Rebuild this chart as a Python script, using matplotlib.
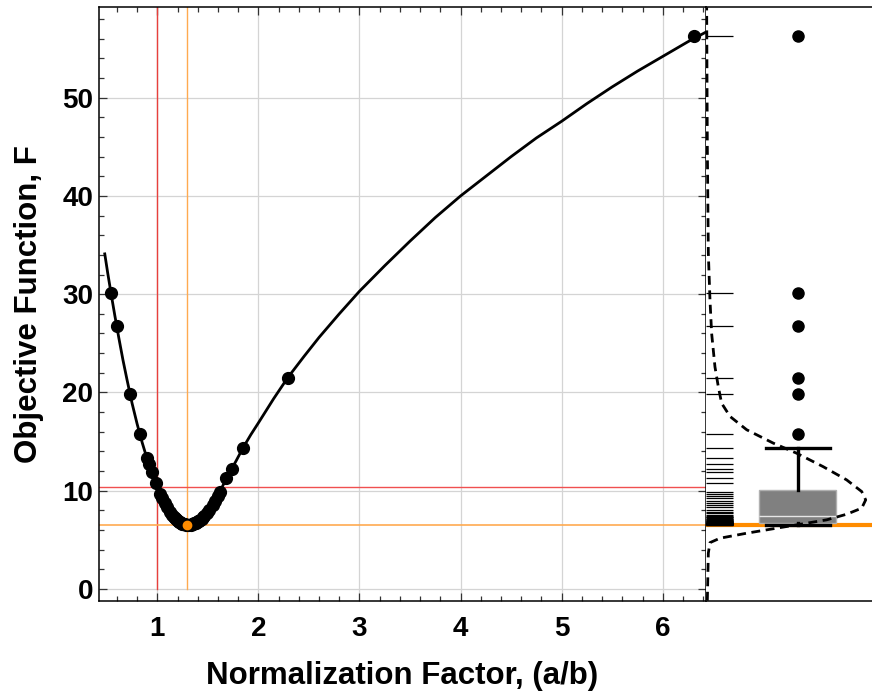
import matplotlib
matplotlib.use('Agg')
import matplotlib.pyplot as plt
from matplotlib.ticker import MultipleLocator

plt.rcParams['font.family'] = ['Liberation Sans', 'DejaVu Sans']
plt.rcParams['font.weight'] = 'bold'

# ---------------- data ----------------
curve_x = [0.48, 0.51, 0.55, 0.58, 0.62, 0.66, 0.70, 0.75, 0.80, 0.85, 0.90, 0.95,
           1.00, 1.05, 1.10, 1.15, 1.20, 1.25, 1.30, 1.35, 1.40, 1.45, 1.50, 1.55,
           1.60, 1.65, 1.70, 1.775, 1.85, 1.925, 2.00, 2.15, 2.29, 2.45, 2.60, 2.80,
           3.00, 3.25, 3.50, 3.75, 4.00, 4.25, 4.50, 4.75, 5.00, 5.25, 5.50, 5.75,
           6.00, 6.25, 6.45]
curve_F = [34.1, 32.1, 29.6, 27.8, 25.5, 23.3, 21.3, 18.9, 16.8, 14.9, 13.2, 11.7,
           10.4, 9.2, 8.25, 7.5, 6.95, 6.63, 6.50, 6.58, 6.85, 7.26, 7.85, 8.6,
           9.5, 10.55, 11.6, 12.95, 14.4, 15.7, 16.9, 19.35, 21.5, 23.65, 25.6, 28.0,
           30.3, 32.9, 35.4, 37.8, 40.0, 42.0, 44.0, 45.9, 47.6, 49.4, 51.1, 52.7,
           54.2, 55.7, 56.8]

points_x = [6.31, 0.542, 0.598, 2.29, 0.73, 0.829, 1.85, 0.895, 0.917, 1.736,
            0.945, 1.68, 0.986,
            1.619, 1.030, 1.598, 1.049, 1.570, 1.074, 1.547, 1.096, 1.513, 1.127,
            1.487, 1.147, 1.464,
            1.163, 1.451, 1.173, 1.438, 1.184, 1.427, 1.194, 1.415, 1.204, 1.404,
            1.214, 1.392, 1.225, 1.382, 1.232, 1.374, 1.239, 1.365, 1.247, 1.355,
            1.257, 1.343, 1.270, 1.330, 1.285, 1.300]
points_F = [56.25, 30.1, 26.75, 21.45, 19.86, 15.75, 14.39, 13.37, 12.7, 12.22,
            11.85, 11.27, 10.76,
            9.9, 9.67, 9.47, 9.23, 8.96, 8.75, 8.55, 8.32, 8.04, 7.85,
            7.7, 7.55, 7.42,
            7.33, 7.27, 7.21, 7.15, 7.10, 7.05, 7.00, 6.96, 6.92, 6.88,
            6.84, 6.80, 6.76, 6.74, 6.72, 6.70, 6.68, 6.66, 6.64, 6.62,
            6.60, 6.58, 6.56, 6.55, 6.53, 6.52]

best_x = 1.297
best_F = 6.52
ref_x = 1.0
ref_F = 10.42

# density curve of F (right panel), F level vs. relative density
kde_F = [-1.2, 3.64, 4.71, 5.16, 5.67, 6.24, 6.69, 7.03, 7.6, 8.22, 9.06, 9.91,
         11.1, 12.45, 13.82, 14.84, 16.2, 17.55, 18.9, 20.6, 22.6, 26.0, 29.4,
         34.2, 45.0, 59.2]
kde_d = [0.008, 0.014, 0.024, 0.084, 0.245, 0.446, 0.607, 0.727, 0.847, 0.938,
         0.962, 0.938, 0.847, 0.705, 0.545, 0.405, 0.245, 0.145, 0.094, 0.074,
         0.054, 0.034, 0.024, 0.014, 0.008, 0.004]

xlabel = "Normalization Factor, (a/b)"
ylabel = "Objective Function, F"

# ---------------- figure ----------------
W, H = 872, 694
fig = plt.figure(figsize=(W / 100, H / 100), dpi=100)

ax_l, ax_r = 98.7 / W, 706.0 / W
ax_t, ax_b = 7.3, 600.7
ax = fig.add_axes([ax_l, 1 - ax_b / H, ax_r - ax_l, (ax_b - ax_t) / H])
ax2 = fig.add_axes([ax_r, 1 - ax_b / H, 1 - ax_r, (ax_b - ax_t) / H])

ylim = (-1.2, 59.2)
ax.set_xlim(0.42, 6.428)
ax.set_ylim(*ylim)

ax.xaxis.set_major_locator(MultipleLocator(1))
ax.xaxis.set_minor_locator(MultipleLocator(0.2))
ax.yaxis.set_major_locator(MultipleLocator(10))
ax.yaxis.set_minor_locator(MultipleLocator(2))

ax.grid(True, which='major', color='#d4d4d4', lw=0.9, zorder=0)
ax.set_axisbelow(True)

ax.tick_params(which='both', direction='in', top=True, right=True,
               color='#333333', width=0.9)
ax.tick_params(which='major', length=5.8, labelsize=20)
ax.tick_params(axis='x', which='major', pad=11)
ax.tick_params(axis='y', which='major', pad=4)
ax.tick_params(which='minor', length=3.6)
for s in ax.spines.values():
    s.set_linewidth(1.1)

# reference lines
y0 = (0 - ylim[0]) / (ylim[1] - ylim[0])
ax.axvline(ref_x, ymin=y0, ymax=1, color='#e8403c', lw=1.0, zorder=1)
ax.axvline(best_x, ymin=y0, ymax=1, color='#ffaa50', lw=1.0, zorder=1)
ax.axhline(ref_F, color='#f05050', lw=1.0, zorder=1)
ax.axhline(best_F, color='#ffaa50', lw=1.2, zorder=1)

ax.plot(curve_x, curve_F, color='black', lw=2.0, zorder=3)
ax.plot(points_x, points_F, 'o', color='black', ms=8.5, zorder=4)
ax.plot([best_x], [best_F], 'o', color='#ff8c00', ms=6, zorder=5)

ax.set_xlabel(xlabel, fontsize=22.5, fontweight='bold')
ax.xaxis.set_label_coords(0.5, -0.1015)
ax.set_ylabel(ylabel, fontsize=22.5, fontweight='bold')
ax.yaxis.set_label_coords(-0.115, 0.5)
ax.yaxis.label.set_va('center')

# ---------------- right panel ----------------
ax2.set_xlim(0, 1)
ax2.set_ylim(*ylim)
ax2.set_xticks([])
ax2.set_yticks([])
ax2.spines['left'].set_visible(False)
ax2.spines['right'].set_visible(False)
for s in ('top', 'bottom'):
    ax2.spines[s].set_linewidth(1.1)

ax2.axhline(best_F, color='#ff8c00', lw=3.0, zorder=1.5)
ax2.hlines(points_F, 0, 0.16, color='black', lw=0.9, zorder=2)

ax2.boxplot(points_F, positions=[0.552], widths=0.466, patch_artist=True,
            whis=1.5, capwidths=0.386, manage_ticks=False,
            boxprops=dict(facecolor='#808080', edgecolor='#b0b0b0', lw=1.0),
            medianprops=dict(color='#e6e6e6', lw=1.0),
            whiskerprops=dict(color='black', lw=2.4),
            capprops=dict(color='black', lw=2.4),
            flierprops=dict(marker='o', markerfacecolor='black',
                            markeredgecolor='black', markersize=8),
            zorder=3)

ax2.plot(kde_d, kde_F, color='black', lw=2.0, ls=(0, (3.2, 2.0)), zorder=4)

fig.savefig('out.png', dpi=100)
